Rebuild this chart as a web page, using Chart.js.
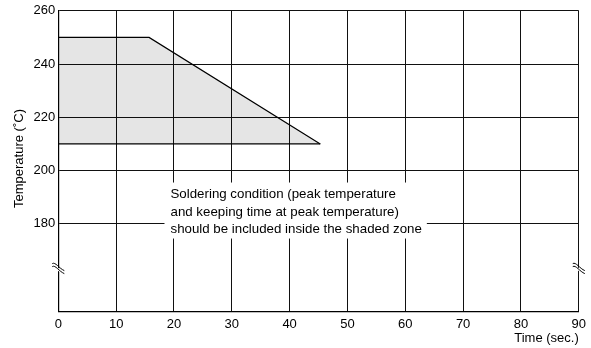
<!DOCTYPE html>
<html><head><meta charset="utf-8">
<script src="https://cdn.jsdelivr.net/npm/chart.js@4.4.0/dist/chart.umd.min.js"></script>
<style>html,body{margin:0;padding:0;background:#fff}#wrap{width:591px;height:348px}</style>
</head><body><div id="wrap"><canvas id="c" width="591" height="348"></canvas></div>
<script>
const zoneTopX = [0, 15.7, 45.3];
const zoneTopY = [250, 250, 210];
const zoneBaseX = [0, 45.3];
const zoneBaseY = [210, 210];
const xTicks = [0,10,20,30,40,50,60,70,80,90];
const yTicks = [180,200,220,240,260];
const yMin = 147, yMax = 260, xMin = 0, xMax = 90;
const breakY = 163;
const noteLines = ["Soldering condition (peak temperature","and keeping time at peak temperature)","should be included inside the shaded zone"];
const xTitle = "Time (sec.)";
const yTitle = "Temperature (˚C)";
const FONT = '"Liberation Sans", Arial, sans-serif';

const toPts = (xs, ys) => xs.map((x,i)=>({x, y: ys[i]}));

const deco = {
  id:'deco',
  afterDatasetsDraw(chart){
    const {ctx, chartArea:a, scales:{x, y}} = chart;
    ctx.save();
    // note box
    ctx.font = '13.3px ' + FONT;
    const lh = 17.5;
    const tx = x.getPixelForValue(19.4);
    const ty = y.getPixelForValue(191);
    let w = 0; noteLines.forEach(l=>{w=Math.max(w, ctx.measureText(l).width);});
    ctx.fillStyle = '#fff';
    ctx.fillRect(tx-6, ty-12, w+11, 56);
    ctx.fillStyle = '#000';
    ctx.textBaseline = 'middle';
    ctx.textAlign = 'left';
    noteLines.forEach((l,i)=>ctx.fillText(l, tx, ty + i*lh));
    // break marks
    const by = y.getPixelForValue(breakY);
    [a.left, a.right].forEach(px=>{
      ctx.fillStyle = '#fff';
      ctx.beginPath();
      ctx.moveTo(px-5, by-4); ctx.lineTo(px+5, by+2); ctx.lineTo(px+5, by+5); ctx.lineTo(px-5, by-1); ctx.closePath();
      ctx.fill();
      ctx.strokeStyle = '#000'; ctx.lineWidth = 1;
      [-4.5, -1.5].forEach(d=>{
        ctx.beginPath();
        ctx.moveTo(px-6, by+d-1);
        ctx.bezierCurveTo(px-3, by+d-3, px+1, by+d+4, px+6, by+d+6);
        ctx.stroke();
      });
    });
    // axis titles
    ctx.fillStyle = '#000';
    ctx.font = '13px ' + FONT;
    ctx.textAlign = 'right';
    ctx.textBaseline = 'middle';
    ctx.fillText(xTitle, a.right, 338);
    ctx.save();
    ctx.translate(19, 158.5);
    ctx.rotate(-Math.PI/2);
    ctx.textAlign = 'center';
    ctx.fillText(yTitle, 0, 0);
    ctx.restore();
    ctx.restore();
  }
};

new Chart(document.getElementById('c'), {
  type: 'scatter',
  data: { datasets: [
    { data: toPts(zoneTopX, zoneTopY), showLine: true, borderColor:'#000', borderWidth:1.2, pointRadius:0,
      fill: {value: 210}, backgroundColor: 'rgba(0,0,0,0.1)', tension:0 },
    { data: toPts(zoneBaseX, zoneBaseY), showLine: true, borderColor:'#000', borderWidth:1.2, pointRadius:0, fill:false }
  ]},
  options: {
    responsive:false, animation:false, devicePixelRatio:1,
    layout:{padding:{left:0, right:12, top:10, bottom:0}},
    plugins:{legend:{display:false}, tooltip:{enabled:false}},
    scales:{
      x:{ type:'linear', min:xMin, max:xMax,
        afterBuildTicks(s){ s.ticks = xTicks.map(v=>({value:v})); },
        afterFit(s){ s.height = 36.3; },
        grid:{color:'#111', lineWidth:1, drawTicks:false},
        border:{color:'#000', width:1.2},
        ticks:{color:'#000', padding:5, font:{family:FONT, size:13}, maxRotation:0, autoSkip:false}
      },
      y:{ type:'linear', min:yMin, max:yMax,
        afterBuildTicks(s){ s.ticks = yTicks.map(v=>({value:v})); },
        afterFit(s){ s.width = 58.3; },
        grid:{color:'#111', lineWidth:1, drawTicks:false},
        border:{color:'#000', width:1.2},
        ticks:{color:'#000', padding:3, font:{family:FONT, size:13}, autoSkip:false}
      }
    }
  },
  plugins:[deco]
});
</script></body></html>
